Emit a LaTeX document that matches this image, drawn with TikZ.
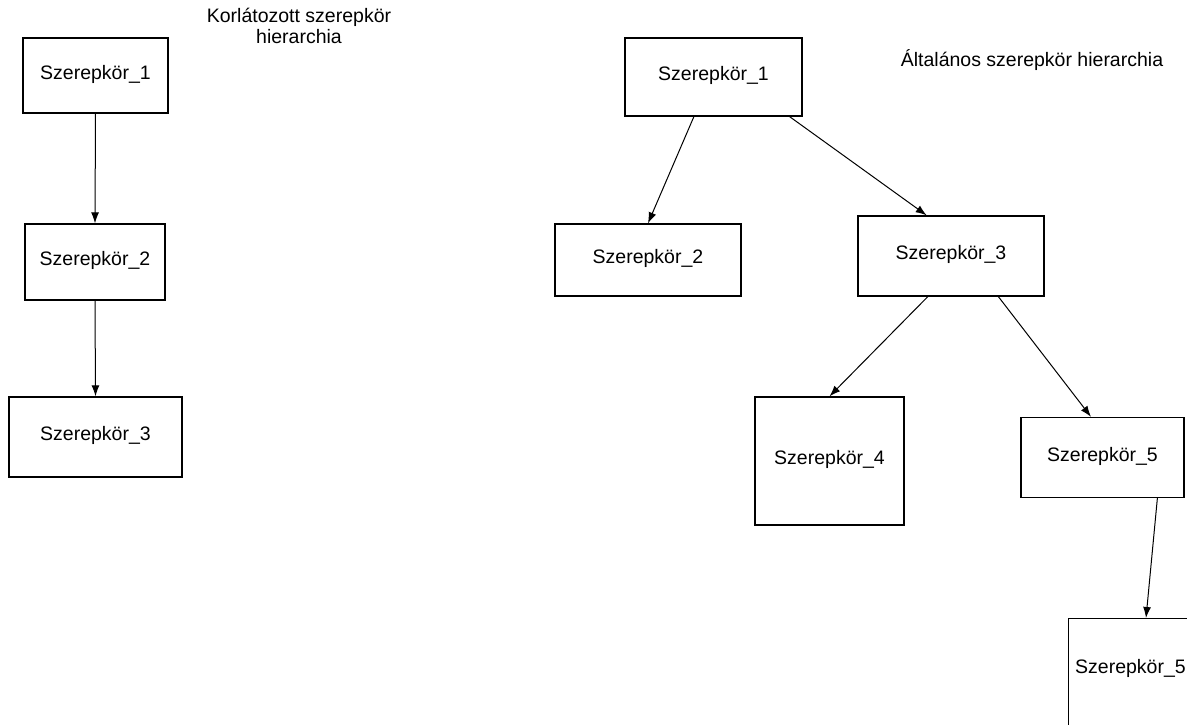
\documentclass[tikz,border=0pt]{standalone}
\usepackage{fontspec}
\setmainfont{Liberation Sans}
\usetikzlibrary{calc,arrows.meta}

\tikzset{
  rolebox/.style={draw=black, line width=1.3pt, rectangle, inner sep=0pt,
    font=\fontsize{19.5}{21}\selectfont, text height=0.716em, text depth=0pt},
  roletext/.style={inner sep=0pt, font=\fontsize{19.5}{21}\selectfont},
  heading/.style={inner sep=0pt, align=center, font=\fontsize{19.5}{21}\selectfont},
  link/.style={line width=1pt, -{Latex[length=11pt,width=8pt]}}
}

\begin{document}
\begin{tikzpicture}[x=1pt, y=-1pt]
  \clip (0,0) rectangle (1187,724);
  \fill[white] (0,0) rectangle (1187,724);

  % restricted hierarchy (left)
  \node[heading] (titleA) at (299,26) {Korlátozott szerepkör\\hierarchia};
  \node[rolebox, minimum width=145pt, minimum height=75pt] (a1) at (95.5,75.5) {Szerepkör\_1};
  \node[rolebox, minimum width=140pt, minimum height=76pt] (a2) at (95,262) {Szerepkör\_2};
  \node[rolebox, minimum width=173pt, minimum height=80pt] (a3) at (95.5,437) {Szerepkör\_3};

  \draw[link] (a1.south) -- (a2.north);
  \draw[link] (a2.south) -- (a3.north);

  % general hierarchy (right)
  \node[heading, anchor=base] (titleB) at (1032,66) {Általános szerepkör hierarchia};
  \node[rolebox, minimum width=177pt, minimum height=78pt] (b1) at (713.5,77) {Szerepkör\_1};
  \node[rolebox, minimum width=186pt, minimum height=72pt] (b2) at (648,260) {Szerepkör\_2};
  \node[rolebox, minimum width=186pt, minimum height=80pt] (b3) at (951,256) {Szerepkör\_3};
  \node[rolebox, minimum width=149pt, minimum height=128pt] (b4) at (829.5,461) {Szerepkör\_4};
  \node[rolebox, minimum width=163pt, minimum height=80pt] (b5) at (1102.5,457.5) {Szerepkör\_5};
  \node[rolebox, anchor=north west, minimum width=130pt, minimum height=130pt] (b6) at (1068,618) {};
  \node[roletext, anchor=base west] (b6text) at ($(b6.north west)+(7,55)$) {Szerepkör\_5};

  \draw[link] ($(b1.south west)!0.39!(b1.south east)$) -- (b2.north);
  \draw[link] ($(b1.south west)!0.927!(b1.south east)$) -- ($(b3.north west)!0.37!(b3.north east)$);
  \draw[link] ($(b3.south west)!0.376!(b3.south east)$) -- (b4.north);
  \draw[link] ($(b3.south west)!0.753!(b3.south east)$) -- ($(b5.north west)!0.43!(b5.north east)$);
  \draw[link] ($(b5.south west)!0.834!(b5.south east)$) -- ($(b6.north west)+(78,0)$);
\end{tikzpicture}
\end{document}
